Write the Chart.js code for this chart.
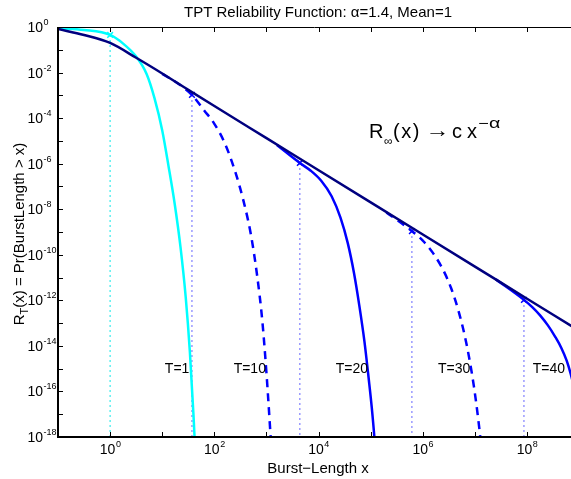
<!DOCTYPE html>
<html>
<head>
<meta charset="utf-8">
<script src="https://cdn.jsdelivr.net/npm/chart.js@4.4.0/dist/chart.umd.min.js"></script>
<style>
html, body { margin: 0; padding: 0; background: #fff; overflow: hidden; }
</style>
</head>
<body>
<canvas id="c" width="571" height="479"></canvas>
<script>
// all values are log10 exponents (x = burst length, y = R_T(x))
const rInfX = [-1, -0.5, 0, 0.5, 1, 1.5, 2, 3, 4, 5, 6, 7, 8, 9];
const rInfY = [-0.09, -0.35, -0.70, -1.35, -2.04, -2.76, -3.47, -4.88, -6.29, -7.70, -9.11, -10.52, -11.93, -13.34];

const t1X = [-1, -0.5, 0, 0.25, 0.5, 0.7, 0.85, 1.0, 1.12, 1.24, 1.35, 1.45, 1.53, 1.6, 1.66];
const t1Y = [-0.05, -0.13, -0.35, -0.73, -1.30, -2.06, -3.11, -4.54, -6.10, -7.78, -9.65, -11.85, -14.25, -17.05, -19.93];

const t10X = [1.0, 1.3, 1.57, 1.8, 2.0, 2.2, 2.4, 2.55, 2.7, 2.82, 2.92, 3.0, 3.08, 3.14];
const t10Y = [-2.06, -2.48, -2.98, -3.65, -4.25, -5.1, -6.35, -7.55, -9.1, -10.9, -12.9, -15.2, -18, -20.3];

const t20X = [3.2, 3.64, 3.85, 4.05, 4.25, 4.42, 4.56, 4.68, 4.78, 4.88, 4.96, 5.02, 5.08, 5.13];
const t20Y = [-5.18, -5.97, -6.31, -6.75, -7.43, -8.37, -9.49, -10.81, -12.21, -13.81, -15.41, -16.7, -18.3, -20.1];

const t30X = [5.3, 5.79, 6.0, 6.2, 6.38, 6.54, 6.68, 6.8, 6.9, 6.98, 7.05, 7.12, 7.18];
const t30Y = [-8.14, -8.96, -9.38, -9.94, -10.62, -11.45, -12.43, -13.51, -14.66, -15.78, -16.97, -18.37, -19.7];

const t40X = [7.4, 7.94, 8.1, 8.25, 8.4, 8.54, 8.66, 8.76, 8.84, 8.92];
const t40Y = [-11.08, -11.98, -12.3, -12.66, -13.1, -13.6, -14.1, -14.65, -15.25, -16.0];

// cut-off markers with the dotted drop lines
const cutX = [0, 1.57, 3.64, 5.79, 7.94];
const cutY = [-0.35, -2.98, -5.97, -8.96, -11.98];
const tLabels = ['T=1', 'T=10', 'T=20', 'T=30', 'T=40'];
const tLabelX = [1.05, 2.37, 4.33, 6.29, 8.11];
const tLabelY = -15;

const xTickExp = [-1, 0, 1, 2, 3, 4, 5, 6, 7, 8];
const xLabelExp = [0, 2, 4, 6, 8];
const yTickExp = [0, -1, -2, -3, -4, -5, -6, -7, -8, -9, -10, -11, -12, -13, -14, -15, -16, -17, -18];
const yLabelExp = [0, -2, -4, -6, -8, -10, -12, -14, -16, -18];

const FONT = '"Liberation Sans", Arial, Helvetica, sans-serif';
const NAVY = '#00007f';
const BLUE = '#0000ff';
const CYAN = '#00ffff';

const pts = (xs, ys) => xs.map((v, i) => ({ x: Math.pow(10, v), y: Math.pow(10, ys[i]) }));

function curve(xs, ys, color, dash) {
  return {
    data: pts(xs, ys),
    showLine: true,
    borderColor: color,
    borderWidth: 2.5,
    borderDash: dash || [],
    pointRadius: 0,
    cubicInterpolationMode: 'monotone'
  };
}

function dropLine(i) {
  const col = i === 0 ? CYAN : BLUE;
  return {
    data: [{ x: Math.pow(10, cutX[i]), y: Math.pow(10, cutY[i]) }, { x: Math.pow(10, cutX[i]), y: 1e-18 }],
    showLine: true,
    borderColor: i === 0 ? 'rgba(0,230,230,0.8)' : 'rgba(60,60,255,0.65)',
    borderWidth: 1.2,
    borderDash: [2, 3],
    pointStyle: 'crossRot',
    pointRadius: [4, 0],
    pointBorderColor: col,
    pointBorderWidth: 1.5,
    pointBackgroundColor: col
  };
}

const datasets = [
  curve(rInfX, rInfY, NAVY),
  curve(t40X, t40Y, BLUE),
  curve(t30X, t30Y, BLUE, [8, 6]),
  curve(t20X, t20Y, BLUE),
  curve(t10X, t10Y, BLUE, [8, 6]),
  curve(t1X, t1Y, CYAN)
];
for (let i = 0; i < cutX.length; i++) datasets.push(dropLine(i));

// base "10" plus a raised exponent
function powLabel(ctx, exp, x, y, axis) {
  const es = String(exp);
  ctx.font = '14px ' + FONT;
  const bw = ctx.measureText('10').width;
  ctx.font = '9px ' + FONT;
  const ew = ctx.measureText(es).width;
  ctx.textAlign = 'left';
  ctx.textBaseline = 'alphabetic';
  let bx, by;
  if (axis === 'x') {
    bx = x - (bw + ew) / 2;
    by = y;
  } else {
    bx = x - bw;
    by = y + 5;
  }
  ctx.font = '14px ' + FONT;
  ctx.fillText('10', bx, by);
  ctx.font = '9px ' + FONT;
  ctx.fillText(es, bx + bw + 0.5, by - 7);
}

const matlabAxes = {
  id: 'matlabAxes',
  afterDraw(chart) {
    const { ctx, chartArea: a } = chart;
    const sx = chart.scales.x, sy = chart.scales.y;
    ctx.save();
    ctx.fillStyle = '#000';
    ctx.strokeStyle = '#000';

    // box
    ctx.lineWidth = 1;
    ctx.beginPath();
    ctx.moveTo(a.left, a.top + 0.5);
    ctx.lineTo(a.right, a.top + 0.5);
    ctx.stroke();
    ctx.lineWidth = 2;
    ctx.beginPath();
    ctx.moveTo(a.left, a.top);
    ctx.lineTo(a.left, a.bottom);
    ctx.lineTo(a.right, a.bottom);
    ctx.stroke();

    // inward ticks
    ctx.lineWidth = 1;
    ctx.beginPath();
    xTickExp.forEach(e => {
      const px = Math.round(sx.getPixelForValue(Math.pow(10, e))) + 0.5;
      ctx.moveTo(px, a.bottom); ctx.lineTo(px, a.bottom - 5);
      ctx.moveTo(px, a.top); ctx.lineTo(px, a.top + 5);
    });
    yTickExp.forEach(e => {
      const py = Math.round(sy.getPixelForValue(Math.pow(10, e))) + 0.5;
      ctx.moveTo(a.left, py); ctx.lineTo(a.left + 5, py);
    });
    ctx.stroke();

    xLabelExp.forEach(e => powLabel(ctx, e, sx.getPixelForValue(Math.pow(10, e)), a.bottom + 17, 'x'));
    yLabelExp.forEach(e => powLabel(ctx, e, a.left - 15, sy.getPixelForValue(Math.pow(10, e)), 'y'));

    // title and x label
    ctx.font = '15px ' + FONT;
    ctx.textAlign = 'center';
    ctx.fillText('TPT Reliability Function: \u03b1=1.4, Mean=1', 318, 17);
    ctx.fillText('Burst\u2212Length x', 318, 473);

    // y label, rotated, with subscript T
    ctx.save();
    ctx.translate(24, 234);
    ctx.rotate(-Math.PI / 2);
    ctx.textAlign = 'left';
    ctx.font = '15px ' + FONT;
    const p1 = 'R', p3 = '(x) = Pr(BurstLength > x)';
    const w1 = ctx.measureText(p1).width, w3 = ctx.measureText(p3).width;
    ctx.font = '11px ' + FONT;
    const w2 = ctx.measureText('T').width;
    let cx = -(w1 + w2 + w3) / 2;
    ctx.font = '15px ' + FONT;
    ctx.fillText(p1, cx, 0);
    ctx.font = '11px ' + FONT;
    ctx.fillText('T', cx + w1, 4);
    ctx.font = '15px ' + FONT;
    ctx.fillText(p3, cx + w1 + w2, 0);
    ctx.restore();

    // T= labels
    ctx.font = '14px ' + FONT;
    ctx.textAlign = 'left';
    ctx.textBaseline = 'middle';
    tLabels.forEach((t, i) => {
      ctx.fillText(t, sx.getPixelForValue(Math.pow(10, tLabelX[i])), sy.getPixelForValue(Math.pow(10, tLabelY)));
    });

    // asymptote annotation: R_inf(x) -> c x^-alpha
    ctx.textBaseline = 'alphabetic';
    const ay = 138;
    ctx.font = '20px ' + FONT;
    ctx.fillText('R', 369, ay);
    ctx.font = '12px ' + FONT;
    ctx.fillText('\u221e', 384, ay + 7);
    ctx.font = '20px ' + FONT;
    ctx.letterSpacing = '1.5px';
    ctx.fillText('(x)', 393, ay);
    ctx.letterSpacing = '0px';
    ctx.save();
    ctx.textAlign = 'center';
    const aw = ctx.measureText('\u2192').width;
    ctx.translate(437.5, ay - 1);
    ctx.scale(24 / aw, 1);
    ctx.fillText('\u2192', 0, 0);
    ctx.restore();
    ctx.fillText('c', 452, ay);
    ctx.fillText('x', 467, ay);
    ctx.font = '14px ' + FONT;
    ctx.save();
    ctx.translate(478, ay - 10);
    ctx.scale(1.3, 1);
    ctx.fillText('\u2212', 0, 0);
    ctx.restore();
    ctx.save();
    ctx.translate(489, ay - 10);
    ctx.scale(1.4, 1);
    ctx.fillText('\u03b1', 0, 0);
    ctx.restore();
    ctx.restore();
  }
};

new Chart(document.getElementById('c'), {
  type: 'scatter',
  data: { datasets: datasets },
  options: {
    responsive: false,
    animation: false,
    layout: { autoPadding: false, padding: { left: 58, top: 27, right: 0, bottom: 42 } },
    plugins: { legend: { display: false }, tooltip: { enabled: false } },
    scales: {
      x: { type: 'logarithmic', min: 0.1, max: Math.pow(10, 8.843), display: false },
      y: { type: 'logarithmic', min: 1e-18, max: 1, display: false }
    }
  },
  plugins: [matlabAxes]
});
</script>
</body>
</html>
